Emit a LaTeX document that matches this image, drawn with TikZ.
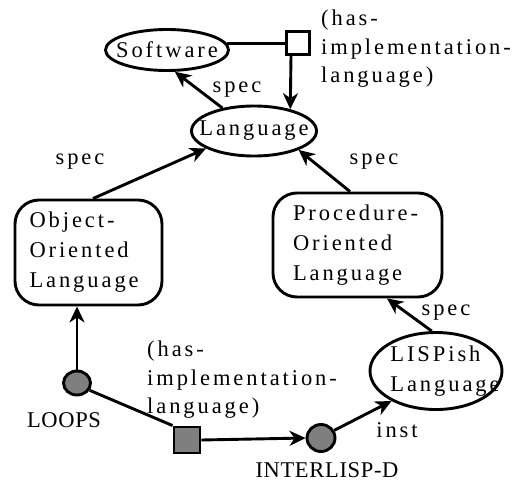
\documentclass[tikz,border=0pt]{standalone}
\usepackage{fontspec}
\setmainfont{Liberation Serif}
\newfontfamily\spc[LetterSpace=13]{Liberation Serif}
\newfontfamily\nrm[LetterSpace=3]{Liberation Serif}
\usetikzlibrary{arrows.meta,shapes.geometric}
\definecolor{dotgray}{HTML}{7F7F7F}
\tikzset{
  arr/.style={-{Stealth[length=16pt,width=15pt,inset=5pt]}},
  ln/.style={line width=2.9pt},
  ell/.style={draw,ellipse,line width=2.9pt,inner sep=0pt},
  rbox/.style={draw,rounded corners=24pt,line width=2.9pt,align=left},
  sf/.style={font=\spc\fontsize{22.5}{30}\selectfont,inner sep=0pt},
  lab/.style={font=\spc\fontsize{22.5}{28.5}\selectfont,inner sep=0pt,align=left},
  nm/.style={font=\nrm\fontsize{22.5}{27}\selectfont,inner sep=0pt},
  sqr/.style={draw,line width=2.9pt,inner sep=0pt},
}
\begin{document}
\begin{tikzpicture}[x=1pt,y=-1pt]
\useasboundingbox (0,0) rectangle (521,487);
% nodes
\node[ell,minimum width=123pt,minimum height=41pt,label={[sf]center:Software}] (soft) at (167,50) {};
\node[ell,minimum width=125pt,minimum height=50pt,label={[sf]center:Language}] (lang) at (254,131) {};
\node[sqr,fill=white,minimum size=23pt] (sq1) at (298,43) {};
\node[rbox,sf,minimum width=147pt,minimum height=105pt,text width=118pt,inner xsep=14.5pt] (ool) at (88.5,252.5) {Object-\\Oriented\\Language};
\node[rbox,sf,minimum width=169pt,minimum height=104pt,text width=129pt,inner xsep=20pt] (pol) at (357.5,245) {Procedure-\\Oriented\\Language};
\node[ell,minimum width=132pt,minimum height=77pt,label={[sf,align=left,xshift=9pt]center:LISPish\\Language}] (lisp) at (436,371) {};
\node[ell,fill=dotgray,minimum width=27pt,minimum height=24pt] (loops) at (77,383) {};
\node[ell,fill=dotgray,minimum width=28pt,minimum height=27pt] (il) at (321,438) {};
\node[sqr,fill=dotgray,minimum size=26pt] (sq2) at (187,440) {};
% text labels
\node[lab,anchor=west] (hil1) at (321,49) {(has-\\implementation-\\language)};
\node[lab,anchor=west] (hil2) at (147,380) {(has-\\implementation-\\language)};
\node[nm] (loopst) at (64,420) {LOOPS};
\node[nm] (ilt) at (327,470) {INTERLISP-D};
\node[sf] (s1) at (237,90) {spec};
\node[sf] (s2) at (80,162) {spec};
\node[sf] (s3) at (374,162) {spec};
\node[sf] (s4) at (446,313) {spec};
\node[sf] (s5) at (397,430) {inst};
% connectors
\draw[ln] (soft.6) -- (soft.6 -| sq1.west);
\draw[ln,arr] ([xshift=-7pt]sq1.south) -- (lang.31);
\draw[ln,arr] (lang.144) -- (soft.290);
\draw[ln,arr] ([xshift=4.5pt]ool.north) -- (lang.200);
\draw[ln,arr] ([xshift=-7.5pt]pol.north) -- (lang.337);
\draw[ln,arr] (lisp.96) -- ([xshift=29.5pt]pol.south);
\draw[ln,arr] (loops.north) -- (loops.north |- ool.south);
\draw[ln] (loops.-30) -- (sq2.north west);
\draw[ln,arr] (sq2.east) -- (il.west);
\draw[ln,arr] (il.30) -- (lisp.214);
\end{tikzpicture}
\end{document}
